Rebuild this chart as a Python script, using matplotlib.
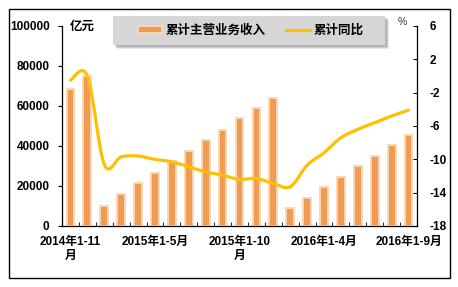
import matplotlib
matplotlib.use("Agg")
import matplotlib.pyplot as plt
from matplotlib.path import Path
from matplotlib.patches import PathPatch, Patch, Rectangle
from matplotlib.lines import Line2D
import numpy as np

plt.rcParams['font.family'] = ['Liberation Sans', 'Noto Sans CJK SC', 'DejaVu Sans']

categories = ['2014年1-11月', '2014年1-12月',
              '2015年1-2月', '2015年1-3月', '2015年1-4月', '2015年1-5月', '2015年1-6月',
              '2015年1-7月', '2015年1-8月', '2015年1-9月', '2015年1-10月', '2015年1-11月',
              '2015年1-12月',
              '2016年1-2月', '2016年1-3月', '2016年1-4月', '2016年1-5月', '2016年1-6月',
              '2016年1-7月', '2016年1-8月', '2016年1-9月']
revenue = [68500, 75000, 10000, 16000, 21500, 26500, 32500, 37500, 43000, 47800,
           54000, 59000, 64000, 9000, 14000, 19500, 24500, 30000, 35000, 40500, 45500]
growth = [-0.5, 0.0, -10.6, -9.7, -9.6, -10.0, -10.3, -10.9, -11.5, -11.9,
          -12.4, -12.3, -12.9, -13.3, -10.7, -9.2, -7.4, -6.4, -5.6, -4.8, -4.1]
label_positions = [0, 5, 10, 15, 20]
tick_texts = ['2014年1-11\n月', '2015年1-5月', '2015年1-10\n月', '2016年1-4月', '2016年1-9月']
left_ticks = [0, 20000, 40000, 60000, 80000, 100000]
right_ticks = [-18, -14, -10, -6, -2, 2, 6]

W, H = 458, 287
fig = plt.figure(figsize=(W / 100, H / 100), dpi=100)
ax = fig.add_axes([62 / W, 1 - 226 / H, (417 - 62) / W, (226 - 26) / H])

x = np.arange(len(categories))
ax.bar(x, revenue, width=0.46, color='#F09B52', edgecolor='#FAD6B4', linewidth=1.4, zorder=2)
ax.set_xlim(-0.5, len(categories) - 0.5)
ax.set_ylim(0, 100000)
ax.set_yticks(left_ticks)
ax.set_yticklabels([str(v) for v in left_ticks], fontsize=8.5, fontweight='bold')
ax.tick_params(axis='y', direction='out', length=3, pad=6, width=0.8)
ax.set_xticks(label_positions)
ax.set_xticklabels(tick_texts, fontsize=8.5, fontweight='bold', linespacing=1.3)
ax.tick_params(axis='x', which='major', length=0, pad=7)
ax.set_xticks(np.arange(-0.5, len(categories) + 0.5, 1.0), minor=True)
ax.tick_params(axis='x', which='minor', direction='in', length=3, width=0.8, color='#1F3864')
for s in ['left', 'bottom']:
    ax.spines[s].set_linewidth(0.9)
ax.spines['top'].set_visible(False)
ax.spines['right'].set_visible(False)

ax2 = ax.twinx()
ax2.set_ylim(-18, 6)
ax2.set_yticks(right_ticks)
ax2.set_yticklabels([str(v) for v in right_ticks], fontsize=8.5, fontweight='bold')
ax2.tick_params(axis='y', direction='in', length=3, pad=9, width=0.8)
ax2.spines['top'].set_visible(False)
ax2.spines['left'].set_visible(False)
ax2.spines['bottom'].set_visible(False)
ax2.spines['right'].set_linewidth(0.9)

# smoothed line (Bezier through the data points)
pts = np.column_stack([x, growth]).astype(float)
verts = [tuple(pts[0])]
codes = [Path.MOVETO]
n = len(pts)
for i in range(n - 1):
    p0 = pts[i - 1] if i > 0 else pts[i]
    p1 = pts[i]
    p2 = pts[i + 1]
    p3 = pts[i + 2] if i + 2 < n else pts[i + 1]
    c1 = p1 + (p2 - p0) / 6.0
    c2 = p2 - (p3 - p1) / 6.0
    verts += [tuple(c1), tuple(c2), tuple(p2)]
    codes += [Path.CURVE4] * 3
ax2.add_patch(PathPatch(Path(verts, codes), facecolor='none', edgecolor='#FFC000',
                        linewidth=2.3, capstyle='round', joinstyle='round', zorder=3))

fig.text(70 / W, 1 - 27 / H, '亿元', fontsize=9, fontweight='bold', ha='left', va='center')
fig.text(402 / W, 1 - 22 / H, '%', fontsize=7.5, ha='center', va='center', color='#333333')

# legend box with soft shadow (pixel coords, origin bottom-left)
bx0, bx1, by_top, by_bot = 113, 385, 16, 45
for off, a in [(4, 0.18), (3, 0.25), (2, 0.3)]:
    fig.patches.append(Rectangle((bx0 + off, H - by_bot - off), bx1 - bx0, by_bot - by_top,
                                 transform=None, facecolor='#808080', edgecolor='none',
                                 alpha=a, zorder=4))
fig.patches.append(Rectangle((bx0, H - by_bot), bx1 - bx0, by_bot - by_top, transform=None,
                             facecolor='#D6D6D6', edgecolor='none', zorder=5))

handles = [Patch(facecolor='#F09B52', edgecolor='#FAD6B4', linewidth=1.4),
           Line2D([0], [0], color='#FFC000', linewidth=2.3)]
leg = fig.legend(handles, ['累计主营业务收入', '累计同比'], loc='center',
                 bbox_to_anchor=(251 / W, 1 - 30.5 / H), ncol=2, frameon=False,
                 prop={'size': 9, 'weight': 'bold'},
                 handlelength=1.95, handleheight=0.5, handletextpad=0.3,
                 columnspacing=1.6, borderpad=0.3)
leg.set_zorder(6)

fig.patches.append(Rectangle((9, 9), 441, 269, transform=None, fill=False,
                             edgecolor='black', linewidth=1.0))

fig.savefig('out.png', dpi=100)
